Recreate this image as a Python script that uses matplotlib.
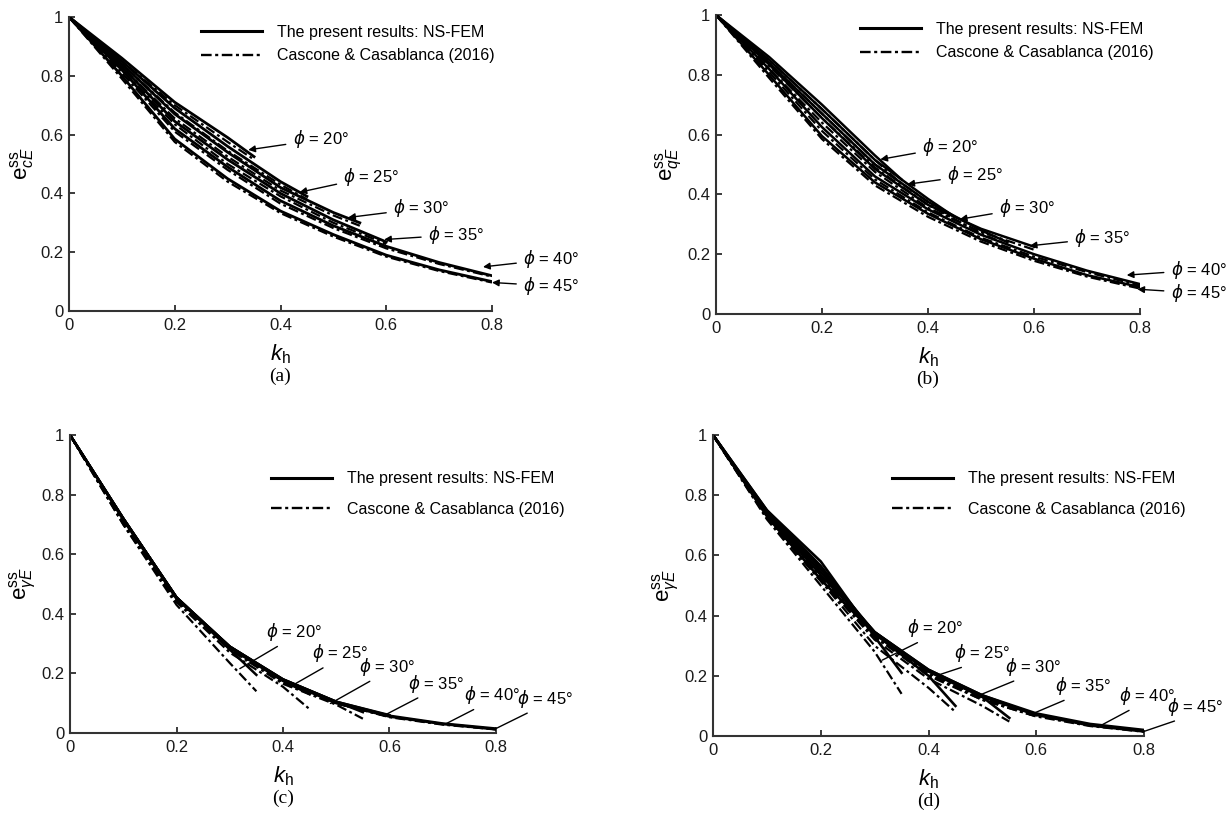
import matplotlib
matplotlib.use("Agg")
import matplotlib.pyplot as plt
from matplotlib.lines import Line2D

plt.rcParams["font.family"] = ["Liberation Sans", "DejaVu Sans"]
plt.rcParams["mathtext.fontset"] = "custom"
plt.rcParams["mathtext.rm"] = "Liberation Sans"
plt.rcParams["mathtext.it"] = "Liberation Sans:italic"

PHI = [20, 25, 30, 35, 40, 45]

# k_h sampling for each friction angle (curves stop at the limit k_h)
KH_20 = [0, 0.1, 0.2, 0.3, 0.35]
KH_25 = [0, 0.1, 0.2, 0.3, 0.4, 0.45]
KH_30 = [0, 0.1, 0.2, 0.3, 0.4, 0.5, 0.55]
KH_35 = [0, 0.1, 0.2, 0.3, 0.4, 0.5, 0.6]
KH_40 = [0, 0.1, 0.2, 0.3, 0.4, 0.5, 0.6, 0.7, 0.8]
KH_45 = [0, 0.1, 0.2, 0.3, 0.4, 0.5, 0.6, 0.7, 0.8]
KH = [KH_20, KH_25, KH_30, KH_35, KH_40, KH_45]

# (a) e_cE
A_NSFEM = [
    [1, 0.86, 0.71, 0.59, 0.525],
    [1, 0.85, 0.69, 0.56, 0.44, 0.39],
    [1, 0.84, 0.67, 0.54, 0.42, 0.335, 0.30],
    [1, 0.83, 0.645, 0.515, 0.40, 0.31, 0.235],
    [1, 0.82, 0.62, 0.49, 0.375, 0.29, 0.22, 0.165, 0.12],
    [1, 0.80, 0.585, 0.45, 0.34, 0.26, 0.19, 0.14, 0.10],
]
A_CASCONE = [
    [1, 0.85, 0.70, 0.575, 0.515],
    [1, 0.84, 0.675, 0.545, 0.43, 0.38],
    [1, 0.83, 0.655, 0.525, 0.41, 0.325, 0.29],
    [1, 0.82, 0.635, 0.50, 0.39, 0.30, 0.228],
    [1, 0.81, 0.61, 0.48, 0.365, 0.282, 0.213, 0.16, 0.117],
    [1, 0.79, 0.575, 0.44, 0.333, 0.253, 0.185, 0.136, 0.097],
]

# (b) e_qE
B_NSFEM = [
    [1, 0.86, 0.70, 0.53, 0.45],
    [1, 0.85, 0.685, 0.515, 0.385, 0.325],
    [1, 0.84, 0.67, 0.50, 0.375, 0.28, 0.24],
    [1, 0.835, 0.655, 0.485, 0.365, 0.285, 0.225],
    [1, 0.82, 0.625, 0.46, 0.35, 0.265, 0.20, 0.145, 0.10],
    [1, 0.80, 0.595, 0.44, 0.335, 0.25, 0.185, 0.13, 0.09],
]
B_CASCONE = [
    [1, 0.85, 0.685, 0.515, 0.435],
    [1, 0.84, 0.67, 0.50, 0.375, 0.315],
    [1, 0.83, 0.655, 0.49, 0.365, 0.27, 0.232],
    [1, 0.82, 0.64, 0.475, 0.355, 0.275, 0.215],
    [1, 0.81, 0.612, 0.45, 0.34, 0.255, 0.192, 0.14, 0.095],
    [1, 0.79, 0.585, 0.43, 0.325, 0.242, 0.178, 0.125, 0.085],
]

# (c) e_gammaE
C_NSFEM = [
    [1, 0.72, 0.455, 0.28, 0.195],
    [1, 0.72, 0.455, 0.285, 0.175, 0.13],
    [1, 0.72, 0.455, 0.29, 0.18, 0.105, 0.07],
    [1, 0.72, 0.455, 0.29, 0.18, 0.105, 0.06],
    [1, 0.72, 0.455, 0.29, 0.18, 0.105, 0.058, 0.032, 0.015],
    [1, 0.715, 0.45, 0.29, 0.175, 0.10, 0.055, 0.03, 0.012],
]
C_CASCONE = [
    [1, 0.70, 0.43, 0.235, 0.14],
    [1, 0.70, 0.44, 0.27, 0.155, 0.08],
    [1, 0.71, 0.445, 0.28, 0.165, 0.095, 0.048],
    [1, 0.71, 0.45, 0.285, 0.17, 0.10, 0.055],
    [1, 0.715, 0.45, 0.285, 0.175, 0.10, 0.055, 0.03, 0.013],
    [1, 0.71, 0.445, 0.285, 0.17, 0.10, 0.053, 0.028, 0.012],
]

# (d) e_gammaE
D_NSFEM = [
    [1, 0.75, 0.58, 0.33, 0.21],
    [1, 0.75, 0.565, 0.34, 0.20, 0.10],
    [1, 0.745, 0.555, 0.345, 0.215, 0.13, 0.06],
    [1, 0.74, 0.545, 0.345, 0.22, 0.135, 0.07],
    [1, 0.735, 0.535, 0.345, 0.22, 0.135, 0.075, 0.04, 0.02],
    [1, 0.73, 0.52, 0.34, 0.215, 0.13, 0.07, 0.035, 0.015],
]
D_CASCONE = [
    [1, 0.72, 0.50, 0.28, 0.14],
    [1, 0.725, 0.515, 0.30, 0.16, 0.08],
    [1, 0.73, 0.52, 0.32, 0.19, 0.10, 0.048],
    [1, 0.73, 0.525, 0.33, 0.20, 0.12, 0.065],
    [1, 0.73, 0.53, 0.335, 0.21, 0.125, 0.07, 0.038, 0.018],
    [1, 0.725, 0.515, 0.33, 0.205, 0.12, 0.065, 0.033, 0.014],
]

# label anchor (text) and pointer tip for each phi, in data units
A_TEXT = [(0.423, 0.584), (0.519, 0.457), (0.613, 0.349), (0.679, 0.259), (0.859, 0.176), (0.859, 0.085)]
A_TIP = [(0.339, 0.548), (0.436, 0.404), (0.528, 0.318), (0.596, 0.243), (0.783, 0.150), (0.800, 0.097)]
B_TEXT = [(0.389, 0.559), (0.436, 0.465), (0.534, 0.355), (0.676, 0.254), (0.858, 0.147), (0.858, 0.070)]
B_TIP = [(0.310, 0.517), (0.361, 0.434), (0.460, 0.317), (0.592, 0.228), (0.775, 0.130), (0.795, 0.083)]
C_TEXT = [(0.369, 0.339), (0.455, 0.267), (0.543, 0.222), (0.634, 0.166), (0.739, 0.127), (0.840, 0.115)]
C_TIP = [(0.319, 0.216), (0.413, 0.155), (0.489, 0.099), (0.590, 0.059), (0.706, 0.031), (0.800, 0.015)]
D_TEXT = [(0.361, 0.358), (0.448, 0.275), (0.542, 0.230), (0.635, 0.166), (0.753, 0.133), (0.843, 0.097)]
D_TIP = [(0.314, 0.252), (0.419, 0.203), (0.495, 0.136), (0.588, 0.070), (0.722, 0.037), (0.798, 0.014)]

W, H = 1227, 813
fig = plt.figure(figsize=(W / 100, H / 100), dpi=100)

DASHDOT = (0, (4.5, 1.5, 1.3, 1.5))


def px_axes(x0, x1, ytop, ybot):
    return fig.add_axes([x0 / W, 1 - ybot / H, (x1 - x0) / W, (ybot - ytop) / H])


def draw_panel(box, nsfem, cascone, texts, tips, ylab, tag, arrows, leg, lw_solid):
    x0, x1, ytop, ybot = box
    ax = px_axes(*box)
    for kh, ys, yc in zip(KH, nsfem, cascone):
        ax.plot(kh, yc, color="k", lw=1.6, linestyle=DASHDOT)
        ax.plot(kh, ys, color="k", lw=lw_solid, solid_joinstyle="miter")
    for phi, (tx, ty), tip in zip(PHI, texts, tips):
        if arrows:
            props = dict(arrowstyle="-|>", color="k", lw=1.0, mutation_scale=10,
                         shrinkA=3, shrinkB=0)
        else:
            props = dict(arrowstyle="-", color="k", lw=1.0, relpos=(0.3, 0.0),
                         shrinkA=1, shrinkB=0)
        ax.annotate(r"$\phi$ = %d°" % phi, xy=tip, xytext=(tx, ty),
                    ha="left", va="center", fontsize=12, math_fontfamily="dejavusans",
                    arrowprops=props)
    ax.set_xlim(0, 0.8)
    ax.set_ylim(0, 1)
    ax.set_xticks([0, 0.2, 0.4, 0.6, 0.8])
    ax.set_yticks([0, 0.2, 0.4, 0.6, 0.8, 1])
    ax.set_xticklabels(["0", "0.2", "0.4", "0.6", "0.8"])
    ax.set_yticklabels(["0", "0.2", "0.4", "0.6", "0.8", "1"])
    ax.tick_params(direction="in", length=4, width=1.2, labelsize=12, colors="#1a1a1a")
    ax.tick_params(axis="x", pad=5)
    ax.tick_params(axis="y", pad=4)
    for s in ("top", "right"):
        ax.spines[s].set_visible(False)
    for s in ("left", "bottom"):
        ax.spines[s].set_linewidth(1.5)
        ax.spines[s].set_color("#333333")
    ax.patch.set_alpha(0)

    cx = (x0 + x1) / 2
    fig.text(cx / W, 1 - (ybot + 43) / H, r"$k_{\mathrm{h}}$", ha="center", va="center", fontsize=16)
    fig.text(cx / W, 1 - (ybot + 65) / H, tag, ha="center", va="center", fontsize=14,
             family="Liberation Serif")
    fig.text((x0 - 47) / W, 1 - (ytop + ybot) / 2 / H, ylab, ha="center", va="center",
             rotation=90, fontsize=16)

    lx, ly, spacing = leg
    handles = [Line2D([], [], color="k", lw=2.2),
               Line2D([], [], color="k", lw=1.7, linestyle=DASHDOT)]
    ax.legend(handles, ["The present results: NS-FEM", "Cascone & Casablanca (2016)"],
              loc="center left", bbox_to_anchor=(lx / W, 1 - ly / H),
              bbox_transform=fig.transFigure, frameon=False, fontsize=11.5,
              handlelength=3.8, handletextpad=0.95, labelspacing=spacing,
              borderpad=0, borderaxespad=0)
    return ax


draw_panel((69, 492, 17, 311), A_NSFEM, A_CASCONE, A_TEXT, A_TIP,
           r"$\mathrm{e}^{\mathrm{ss}}_{cE}$", "(a)", True, (201, 44, 0.55), 2.0)
draw_panel((716, 1140, 15, 314), B_NSFEM, B_CASCONE, B_TEXT, B_TIP,
           r"$\mathrm{e}^{\mathrm{ss}}_{qE}$", "(b)", True, (860, 41, 0.55), 1.8)
draw_panel((70, 496, 435, 733), C_NSFEM, C_CASCONE, C_TEXT, C_TIP,
           r"$\mathrm{e}^{\mathrm{ss}}_{\gamma E}$", "(c)", False, (271, 494, 0.95), 1.8)
draw_panel((713, 1144, 435, 736), D_NSFEM, D_CASCONE, D_TEXT, D_TIP,
           r"$\mathrm{e}^{\mathrm{ss}}_{\gamma E}$", "(d)", False, (892, 494, 0.95), 1.9)

fig.savefig("out.png", dpi=100)
